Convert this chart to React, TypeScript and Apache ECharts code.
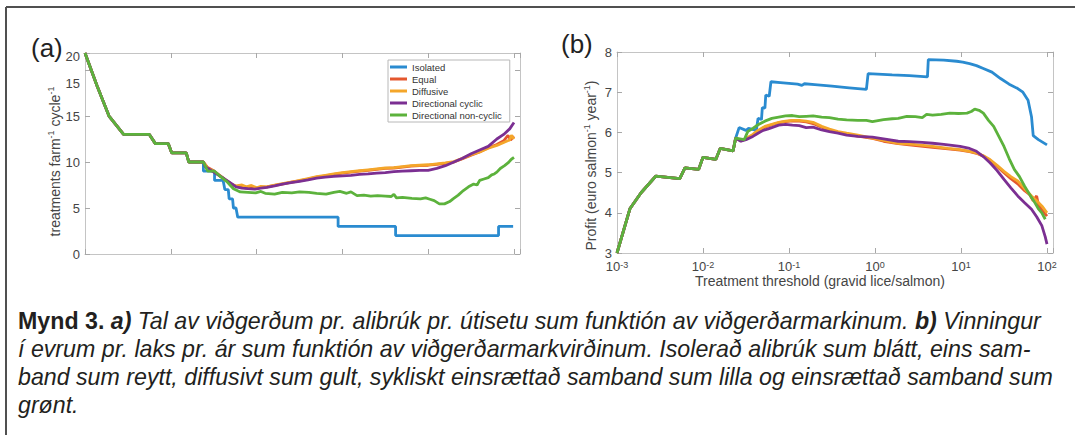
import React, { useEffect, useRef } from "react";
import * as echarts from "echarts";

// x values are log10 of the treatment threshold (gravid lice/salmon)
const X_MIN = -3;
const X_MAX = 2.07;

const seriesNames = ["Isolated", "Equal", "Diffusive", "Directional cyclic", "Directional non-cyclic"];
const seriesColors = ["#2a8bd0", "#e4572e", "#f4a62a", "#7b2f92", "#5cb23c"];

const aYTicks = [0, 5, 10, 15, 20];
const bYTicks = [3, 4, 5, 6, 7, 8];

// ---------- Panel (a): treatments farm^-1 cycle^-1 ----------
const aShared = [
  [-3, 21.85], [-2.86, 18.3], [-2.72, 15.0], [-2.55, 13.0], [-2.25, 13.0], [-2.18, 12.0],
  [-2.03, 12.0], [-1.99, 11.0], [-1.82, 11.0], [-1.79, 10.0],
];
const aIsolated = [
  [-1.62, 10], [-1.62, 9], [-1.49, 9], [-1.49, 8], [-1.39, 8], [-1.37, 7], [-1.33, 7], [-1.32, 6],
  [-1.28, 6], [-1.27, 5], [-1.24, 5], [-1.22, 4], [-0.05, 4], [-0.05, 3], [0.62, 3], [0.62, 2],
  [1.82, 2], [1.82, 3], [1.99, 3],
];
const aEqual = [
  [-1.62, 10.0], [-1.57, 9.4], [-1.5, 9.05], [-1.43, 8.55], [-1.36, 8.05], [-1.3, 7.65], [-1.24, 7.35],
  [-1.18, 7.3], [-1.12, 7.15], [-1.06, 7.3], [-1.0, 7.1], [-0.95, 7.25], [-0.88, 7.3], [-0.79, 7.45],
  [-0.7, 7.6], [-0.6, 7.8], [-0.5, 7.95], [-0.4, 8.15], [-0.3, 8.35], [-0.2, 8.5], [-0.1, 8.65],
  [0.0, 8.8], [0.1, 8.9], [0.2, 9.0], [0.3, 9.1], [0.4, 9.2], [0.5, 9.3], [0.6, 9.35], [0.7, 9.45],
  [0.8, 9.55], [0.9, 9.6], [1.0, 9.65], [1.1, 9.75], [1.2, 9.85], [1.3, 10.0], [1.4, 10.35],
  [1.5, 10.75], [1.6, 11.1], [1.7, 11.55], [1.8, 11.9], [1.88, 12.3], [1.93, 12.9], [1.96, 12.4], [2.0, 12.8],
];
const aDiffusive = [
  [-1.62, 10.0], [-1.57, 9.3], [-1.5, 9.0], [-1.43, 8.5], [-1.36, 8.0], [-1.3, 7.6], [-1.24, 7.4],
  [-1.17, 7.5], [-1.12, 7.3], [-1.06, 7.45], [-1.0, 7.2], [-0.95, 7.35], [-0.88, 7.3], [-0.79, 7.5],
  [-0.7, 7.65], [-0.6, 7.8], [-0.5, 8.0], [-0.4, 8.2], [-0.3, 8.4], [-0.2, 8.55], [-0.1, 8.7],
  [0.0, 8.85], [0.1, 8.95], [0.2, 9.05], [0.3, 9.15], [0.4, 9.25], [0.5, 9.35], [0.6, 9.4], [0.7, 9.5],
  [0.8, 9.6], [0.9, 9.65], [1.0, 9.7], [1.1, 9.8], [1.2, 9.9], [1.3, 10.05], [1.4, 10.4], [1.5, 10.8],
  [1.6, 11.1], [1.7, 11.5], [1.8, 11.8], [1.9, 12.2], [1.95, 12.4], [1.97, 12.9], [2.0, 12.5],
];
const aCyclic = [
  [-1.62, 10.0], [-1.6, 9.5], [-1.55, 9.2], [-1.5, 8.9], [-1.45, 8.6], [-1.38, 8.2], [-1.3, 7.7],
  [-1.24, 7.3], [-1.17, 7.15], [-1.1, 7.1], [-1.02, 7.05], [-0.95, 7.15], [-0.88, 7.25], [-0.79, 7.4],
  [-0.7, 7.6], [-0.6, 7.75], [-0.5, 7.9], [-0.4, 8.05], [-0.3, 8.25], [-0.2, 8.35], [-0.1, 8.45],
  [0.0, 8.5], [0.1, 8.55], [0.2, 8.65], [0.3, 8.7], [0.4, 8.8], [0.5, 8.85], [0.6, 8.95], [0.7, 9.0],
  [0.8, 9.05], [0.9, 9.1], [1.0, 9.1], [1.1, 9.3], [1.2, 9.6], [1.3, 10.0], [1.4, 10.4], [1.5, 10.9],
  [1.6, 11.3], [1.7, 11.7], [1.8, 12.5], [1.88, 13.0], [1.95, 13.6], [2.0, 14.3],
];
const aNonCyclic = [
  [-1.62, 10.0], [-1.57, 9.0], [-1.49, 9.0], [-1.43, 8.5], [-1.35, 7.9], [-1.27, 7.1], [-1.19, 6.75],
  [-1.1, 6.7], [-1.01, 6.65], [-0.95, 6.8], [-0.9, 6.6], [-0.79, 6.5], [-0.7, 6.7], [-0.59, 6.65],
  [-0.5, 6.75], [-0.39, 6.7], [-0.3, 6.6], [-0.19, 6.5], [-0.1, 6.7], [-0.03, 6.8], [0.05, 6.6],
  [0.1, 6.75], [0.17, 6.35], [0.25, 6.4], [0.33, 6.3], [0.41, 6.35], [0.5, 6.3], [0.57, 6.25],
  [0.6, 6.5], [0.63, 6.1], [0.7, 6.15], [0.81, 6.05], [0.91, 6.0], [0.97, 6.1], [1.02, 5.95],
  [1.07, 5.8], [1.13, 5.45], [1.19, 5.45], [1.25, 5.7], [1.29, 6.0], [1.35, 6.4], [1.41, 6.9],
  [1.47, 7.3], [1.53, 7.6], [1.57, 7.5], [1.6, 8.0], [1.65, 8.15], [1.7, 8.3], [1.74, 8.6],
  [1.77, 8.7], [1.8, 8.9], [1.84, 9.3], [1.89, 9.6], [1.93, 9.9], [1.97, 10.3], [2.0, 10.5],
];

// ---------- Panel (b): profit (euro salmon^-1 year^-1) ----------
const bShared = [
  [-3, 3.0], [-2.85, 4.1], [-2.72, 4.5], [-2.55, 4.91], [-2.27, 4.85], [-2.21, 5.12], [-2.05, 5.08],
  [-2.0, 5.38], [-1.85, 5.33], [-1.8, 5.6], [-1.65, 5.54], [-1.62, 5.86],
];
const bIsolated = [
  [-1.58, 6.12], [-1.5, 6.05], [-1.47, 6.1], [-1.38, 6.05], [-1.36, 6.35], [-1.32, 6.32],
  [-1.31, 6.62], [-1.28, 6.6], [-1.27, 6.93], [-1.23, 6.9], [-1.21, 7.26], [-1.1, 7.24],
  [-1.0, 7.22], [-0.9, 7.2], [-0.85, 7.17], [-0.82, 7.21], [-0.7, 7.19], [-0.5, 7.15],
  [-0.3, 7.11], [-0.1, 7.07], [-0.08, 7.46], [0.2, 7.43], [0.4, 7.41], [0.61, 7.38], [0.62, 7.81],
  [0.8, 7.8], [0.95, 7.77], [1.02, 7.75], [1.1, 7.71], [1.18, 7.66], [1.26, 7.59], [1.36, 7.5],
  [1.46, 7.34], [1.56, 7.2], [1.66, 7.09], [1.72, 7.0], [1.78, 6.8], [1.82, 6.39], [1.84, 5.92],
  [1.9, 5.82], [2.0, 5.69],
];
const bEqual = [
  [-1.56, 5.79], [-1.5, 5.84], [-1.42, 5.93], [-1.36, 6.03], [-1.28, 6.13], [-1.2, 6.19],
  [-1.12, 6.24], [-1.04, 6.27], [-0.96, 6.29], [-0.88, 6.28], [-0.8, 6.26], [-0.72, 6.22],
  [-0.62, 6.13], [-0.53, 6.06], [-0.43, 6.0], [-0.33, 5.96], [-0.2, 5.91], [-0.03, 5.85],
  [0.1, 5.78], [0.27, 5.72], [0.45, 5.68], [0.67, 5.63], [0.85, 5.59], [0.99, 5.56], [1.1, 5.52],
  [1.18, 5.48], [1.26, 5.41], [1.34, 5.3], [1.42, 5.15], [1.5, 5.0], [1.58, 4.85], [1.66, 4.72],
  [1.74, 4.55], [1.8, 4.45], [1.84, 4.3], [1.88, 4.42], [1.9, 4.2], [1.94, 4.08], [2.0, 3.92],
];
const bDiffusive = [
  [-1.56, 5.8], [-1.5, 5.85], [-1.42, 5.95], [-1.36, 6.05], [-1.28, 6.15], [-1.2, 6.2],
  [-1.12, 6.25], [-1.04, 6.28], [-0.96, 6.3], [-0.88, 6.3], [-0.8, 6.28], [-0.72, 6.25],
  [-0.62, 6.15], [-0.53, 6.08], [-0.43, 6.02], [-0.33, 5.98], [-0.2, 5.93], [-0.03, 5.86],
  [0.1, 5.8], [0.27, 5.73], [0.45, 5.7], [0.67, 5.65], [0.85, 5.6], [0.99, 5.57], [1.1, 5.53],
  [1.18, 5.49], [1.26, 5.42], [1.34, 5.32], [1.42, 5.18], [1.5, 5.03], [1.58, 4.9], [1.66, 4.79],
  [1.74, 4.6], [1.82, 4.42], [1.88, 4.3], [1.94, 4.17], [2.0, 4.0],
];
const bCyclic = [
  [-1.56, 5.78], [-1.5, 5.82], [-1.42, 5.9], [-1.36, 5.98], [-1.3, 6.05], [-1.25, 6.08],
  [-1.2, 6.12], [-1.12, 6.18], [-1.04, 6.2], [-0.96, 6.18], [-0.88, 6.17], [-0.8, 6.12],
  [-0.72, 6.13], [-0.62, 6.06], [-0.53, 6.02], [-0.43, 5.98], [-0.33, 5.93], [-0.2, 5.9],
  [-0.03, 5.88], [0.1, 5.84], [0.27, 5.78], [0.4, 5.77], [0.55, 5.75], [0.67, 5.73], [0.8, 5.7],
  [0.99, 5.65], [1.1, 5.6], [1.18, 5.53], [1.26, 5.4], [1.34, 5.24], [1.42, 5.05], [1.5, 4.83],
  [1.58, 4.62], [1.66, 4.42], [1.74, 4.25], [1.82, 4.09], [1.88, 3.9], [1.94, 3.68], [1.98, 3.4], [2.0, 3.22],
];
const bNonCyclic = [
  [-1.52, 5.82], [-1.48, 6.02], [-1.42, 6.1], [-1.36, 6.19], [-1.28, 6.28], [-1.2, 6.35],
  [-1.12, 6.38], [-1.04, 6.41], [-0.96, 6.42], [-0.88, 6.39], [-0.8, 6.4], [-0.72, 6.41],
  [-0.62, 6.38], [-0.53, 6.37], [-0.43, 6.33], [-0.33, 6.31], [-0.2, 6.3], [-0.1, 6.3],
  [-0.03, 6.27], [0.1, 6.32], [0.2, 6.34], [0.27, 6.35], [0.37, 6.4], [0.47, 6.39], [0.55, 6.37],
  [0.6, 6.45], [0.67, 6.43], [0.77, 6.45], [0.87, 6.48], [0.97, 6.47], [1.07, 6.48], [1.12, 6.52],
  [1.16, 6.58], [1.21, 6.55], [1.26, 6.48], [1.32, 6.3], [1.38, 6.15], [1.44, 5.9], [1.5, 5.65],
  [1.56, 5.35], [1.62, 5.08], [1.68, 4.9], [1.74, 4.66], [1.8, 4.45], [1.86, 4.25], [1.9, 4.1],
  [1.94, 4.0], [1.98, 3.84],
];

const aSeriesData = [aIsolated, aEqual, aDiffusive, aCyclic, aNonCyclic];
const bSeriesData = [bIsolated, bEqual, bDiffusive, bCyclic, bNonCyclic];

const panelLabels = ["(a)", "(b)"];
const aYName = "{n|treatments farm}{s|-1}{n| cycle}{s|-1}";
const bYName = "{n|Profit (euro salmon}{s|-1}{n| year}{s|-1}{n|)}";
const bXName = "Treatment threshold (gravid lice/salmon)";

const captionLines = [
  "{b|Mynd 3.} {bi|a)} {i|Tal av viðgerðum pr. alibrúk pr. útisetu sum funktión av viðgerðarmarkinum.} {bi|b)} {i|Vinningur}",
  "{i|í evrum pr. laks pr. ár sum funktión av viðgerðarmarkvirðinum. Isolerað alibrúk sum blátt, eins sam-}",
  "{i|band sum reytt, diffusivt sum gult, sykliskt einsrættað samband sum lilla og einsrættað samband sum}",
  "{i|grønt.}",
];

const FONT = "'Liberation Sans', Arial, Helvetica, sans-serif";
const AX_COLOR = "#c4c4c4";
const TXT = "#454545";
const CAP_SIZE = 23.2;
const CAP_COLOR = "#231f20";

function isInt(v: number) {
  return Math.abs(v - Math.round(v)) < 1e-6;
}

export default function App() {
  const ref = useRef<HTMLDivElement>(null);
  useEffect(() => {
    if (!ref.current) return;
    const chart = echarts.init(ref.current, undefined, { renderer: "svg" });

    const supRich = {
      n: { fontSize: 14, fontFamily: FONT, color: TXT, lineHeight: 17 },
      s: { fontSize: 9, fontFamily: FONT, color: TXT, lineHeight: 9, verticalAlign: "top" },
    };

    const baseX = (gridIndex: number, position: string, labels: boolean) => ({
      type: "value",
      gridIndex,
      position,
      min: X_MIN,
      max: X_MAX,
      interval: 1,
      axisLine: { show: true, onZero: false, lineStyle: { color: AX_COLOR, width: 1 } },
      axisTick: { show: true, inside: true, length: 5, lineStyle: { color: "#a8a8a8" } },
      splitLine: { show: false },
      axisLabel: labels
        ? {
            show: true,
            margin: 7,
            fontSize: 13,
            fontFamily: FONT,
            color: TXT,
            lineHeight: 13,
            formatter: (v: number) => (isInt(v) ? `10{s|${Math.round(v)}}` : ""),
            rich: {
              s: { fontSize: 9, fontFamily: FONT, color: TXT, lineHeight: 9, verticalAlign: "top" },
            },
          }
        : { show: false },
    });

    const baseY = (gridIndex: number, position: string, min: number, max: number, interval: number, labelCfg: any) => ({
      type: "value",
      gridIndex,
      position,
      min,
      max,
      interval,
      axisLine: { show: true, onZero: false, lineStyle: { color: AX_COLOR, width: 1 } },
      axisTick: { show: true, inside: true, length: 5, lineStyle: { color: "#a8a8a8" } },
      splitLine: { show: false },
      axisLabel: labelCfg,
    });

    const series: any[] = [];
    seriesNames.forEach((name, i) => {
      series.push({
        name,
        type: "line",
        xAxisIndex: 0,
        yAxisIndex: 0,
        data: aShared.concat(aSeriesData[i]),
        showSymbol: false,
        symbol: "none",
        lineStyle: { width: 2.8, color: seriesColors[i] },
        itemStyle: { color: seriesColors[i] },
        z: 2 + i,
      });
    });
    seriesNames.forEach((name, i) => {
      series.push({
        name,
        type: "line",
        xAxisIndex: 2,
        yAxisIndex: 2,
        data: bShared.concat(bSeriesData[i]),
        showSymbol: false,
        symbol: "none",
        lineStyle: { width: 2.8, color: seriesColors[i] },
        itemStyle: { color: seriesColors[i] },
        z: 2 + i,
      });
    });

    const capStyle = (weight: string, style: string) => ({
      fontSize: CAP_SIZE,
      fontFamily: FONT,
      fontWeight: weight,
      fontStyle: style,
      fill: CAP_COLOR,
      lineHeight: 28,
    });

    const option: any = {
      animation: false,
      backgroundColor: "#ffffff",
      textStyle: { fontFamily: FONT },
      grid: [
        { left: 85, top: 53, width: 435, height: 201, show: false },
        { left: 617, top: 52, width: 436, height: 201, show: false },
      ],
      xAxis: [
        baseX(0, "bottom", false),
        baseX(0, "top", false),
        {
          ...baseX(1, "bottom", true),
          name: bXName,
          nameLocation: "middle",
          nameGap: 20,
          nameTextStyle: { fontSize: 14, fontFamily: FONT, color: TXT, padding: [0, 30, 0, 0] },
        },
        baseX(1, "top", false),
      ],
      yAxis: [
        {
          ...baseY(0, "left", 0, 21.85, 5, {
            show: true,
            margin: 5,
            fontSize: 13,
            fontFamily: FONT,
            color: TXT,
            lineHeight: 27,
            formatter: (v: number) => {
              if (!isInt(v) || v > aYTicks[aYTicks.length - 1]) return "";
              if (v === aYTicks[aYTicks.length - 1]) return `${v}\n${aYTicks[aYTicks.length - 2]}`;
              return String(v);
            },
          }),
          name: aYName,
          nameLocation: "middle",
          nameGap: 22,
          nameTextStyle: { fontSize: 14, fontFamily: FONT, color: TXT, rich: supRich, padding: [0, 16, 0, 0] },
        },
        baseY(0, "right", 0, 21.85, 5, { show: false }),
        {
          ...baseY(1, "left", bYTicks[0], bYTicks[bYTicks.length - 1], 1, {
            show: true,
            margin: 5,
            fontSize: 13,
            fontFamily: FONT,
            color: TXT,
            lineHeight: 13,
          }),
          name: bYName,
          nameLocation: "middle",
          nameGap: 18,
          nameTextStyle: { fontSize: 14, fontFamily: FONT, color: TXT, rich: supRich, padding: [0, 26, 0, 0] },
        },
        baseY(1, "right", bYTicks[0], bYTicks[bYTicks.length - 1], 1, { show: false }),
      ],
      legend: {
        data: seriesNames,
        orient: "vertical",
        left: 388,
        top: 60,
        icon: "rect",
        itemWidth: 17,
        itemHeight: 3,
        itemGap: 2,
        padding: [2, 8, 2, 2],
        borderColor: "#b8b8b8",
        borderWidth: 1,
        backgroundColor: "#ffffff",
        selectedMode: false,
        textStyle: { fontSize: 9.5, lineHeight: 10, fontFamily: FONT, color: "#333" },
        z: 20,
      },
      graphic: [
        { type: "line", shape: { x1: 6, y1: 7, x2: 1075, y2: 7 }, style: { stroke: "#505050", lineWidth: 2 } },
        { type: "line", shape: { x1: 6, y1: 7, x2: 6, y2: 435 }, style: { stroke: "#505050", lineWidth: 2 } },
        {
          type: "text",
          x: 31,
          y: 48,
          style: { text: panelLabels[0], fontSize: 26, fontFamily: FONT, fill: "#222", verticalAlign: "middle" },
        },
        {
          type: "text",
          x: 561,
          y: 44,
          style: { text: panelLabels[1], fontSize: 26, fontFamily: FONT, fill: "#222", verticalAlign: "middle" },
        },
        {
          type: "text",
          x: 18,
          y: 307,
          style: {
            text: captionLines.join("\n"),
            fontSize: CAP_SIZE,
            fontFamily: FONT,
            fontStyle: "italic",
            fill: CAP_COLOR,
            lineHeight: 28,
            verticalAlign: "top",
            rich: {
              b: capStyle("bold", "normal"),
              bi: capStyle("bold", "italic"),
              i: capStyle("normal", "italic"),
            },
          },
        },
      ],
      series,
    };

    chart.setOption(option);
    return () => chart.dispose();
  }, []);

  return (
    <div
      ref={ref}
      style={{ position: "absolute", left: 0, top: 0, width: 1075, height: 435, background: "#fff" }}
    />
  );
}
